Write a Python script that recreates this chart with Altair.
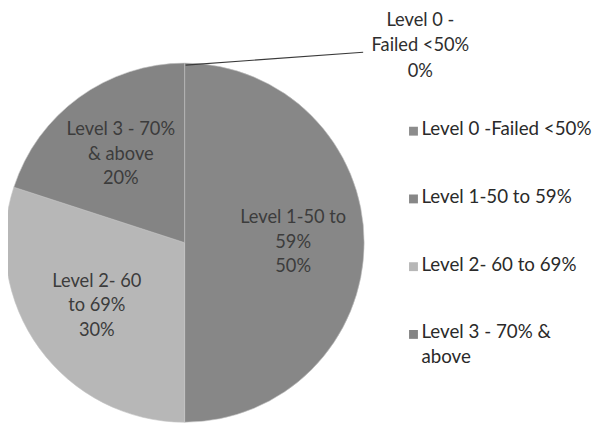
import altair as alt
import pandas as pd

categories = ["Level 0 -Failed <50%", "Level 1-50 to 59%", "Level 2- 60 to 69%", "Level 3 - 70% & above"]
shares = [0, 50, 30, 20]
slice_labels = ["Level 0 -\nFailed <50%\n0%", "Level 1-50 to\n59%\n50%", "Level 2- 60\nto 69%\n30%", "Level 3 - 70%\n& above\n20%"]
legend_labels = ["Level 0 -Failed <50%", "Level 1-50 to 59%", "Level 2- 60 to 69%", "Level 3 - 70% &\nabove"]
colors = ["#8c8c8c", "#878787", "#b7b7b7", "#848484"]

df = pd.DataFrame({
    "idx": list(range(len(categories))),
    "cat": categories,
    "share": shares,
    "label": slice_labels,
    "legend": legend_labels,
})

CX, CY, R = 179, 235, 182
color = alt.Color("cat:N", scale=alt.Scale(domain=categories, range=colors), legend=None)
theta = alt.Theta("share:Q", stack=True)
order = alt.Order("idx:Q")

base = alt.Chart(df)

pie = base.mark_arc(outerRadius=R, stroke="#c4c4c4", strokeWidth=0.6).encode(
    theta=theta, color=color, order=order,
    x=alt.value(CX), y=alt.value(CY),
)

pie_text = base.transform_filter("datum.share > 0").mark_text(
    radius=110, lineBreak="\n", lineHeight=25, fontSize=18.5, font="Lato",
    color="#3c3c3c", baseline="middle", align="center", dy=-26,
).encode(
    theta=theta, detail="cat:N", order=order, text="label:N",
    x=alt.value(CX), y=alt.value(CY),
)

zero_text = base.transform_filter("datum.share == 0").mark_text(
    lineBreak="\n", lineHeight=26, fontSize=18.5, font="Lato",
    color="#2e2e2e", baseline="middle", align="center",
).encode(text="label:N", x=alt.value(418), y=alt.value(9))

leader = base.transform_filter("datum.share == 0").mark_rule(
    color="#3a3a3a", strokeWidth=1.2
).encode(x=alt.value(180), y=alt.value(55), x2=alt.value(360), y2=alt.value(42))

leg_y = alt.Y("cat:N", axis=None, scale=alt.Scale(domain=categories, range=[122, 328], padding=0))

leg_sq = base.mark_square(size=81, opacity=1).encode(
    x=alt.value(411), y=leg_y, color=color,
)
leg_txt = base.mark_text(
    align="left", baseline="top", dy=-11, fontSize=19, font="Lato",
    color="#2a2a2a", lineBreak="\n", lineHeight=25,
).encode(x=alt.value(419), y=leg_y, text="legend:N")

chart = alt.layer(pie, pie_text, zero_text, leader, leg_sq, leg_txt).properties(
    width=596, height=420, padding=0,
    autosize=alt.AutoSizeParams(type="none"),
).configure_view(stroke=None)

chart.save("out.html", embed_options={"renderer": "svg", "actions": False})
